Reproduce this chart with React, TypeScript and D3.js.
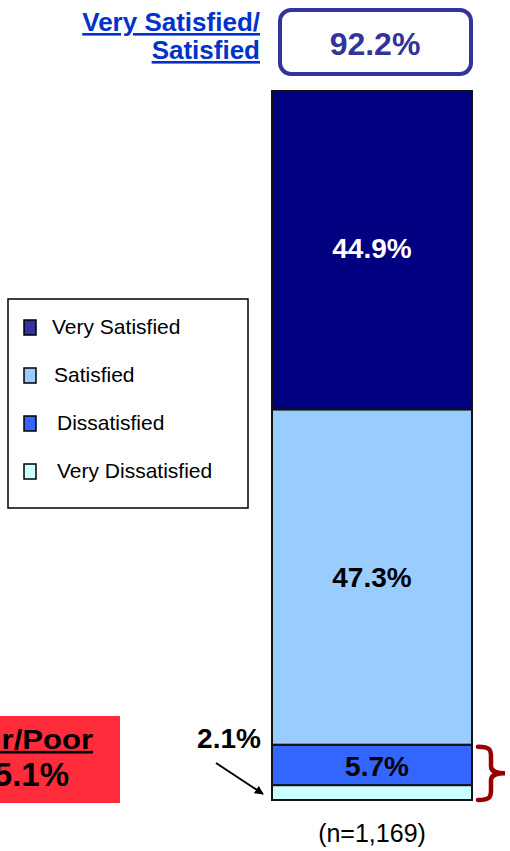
import { scaleLinear, stack } from "d3";

const categories = ["Very Satisfied", "Satisfied", "Dissatisfied", "Very Dissatisfied"];
const values = [44.9, 47.3, 5.7, 2.1];
const fills = ["#000080", "#99ccff", "#3366ff", "#ccffff"];
const legendFills = ["#333399", "#99ccff", "#3366ff", "#ccffff"];
const topLabel = ["Very Satisfied/", "Satisfied"];
const topValue = "92.2%";
const lowLabel = ["Fair/Poor", "5.1%"];
const sampleSize = "(n=1,169)";

const W = 510;
const H = 851;
const font = "Arial, 'Liberation Sans', sans-serif";

export default function App() {
  const row: Record<string, number> = {};
  categories.forEach((c, i) => (row[c] = values[i]));
  // stack bottom-up: Very Dissatisfied first
  const order = [...categories].reverse();
  const series = stack<Record<string, number>>().keys(order)([row]);

  const y = scaleLinear().domain([0, 100]).range([800, 91]);
  const barX = 272;
  const barW = 200;

  const seg = (name: string) => {
    const s = series.find((d) => d.key === name)!;
    return { y0: s[0][0], y1: s[0][1] };
  };

  const legendY = scaleLinear().domain([0, 3]).range([328, 472]);
  const legendTextX = [52, 54, 57, 57];

  const vs = seg("Very Satisfied");
  const sat = seg("Satisfied");
  const dis = seg("Dissatisfied");
  const vdis = seg("Very Dissatisfied");
  const braceTop = y(dis.y1) + 2;
  const braceBot = y(vdis.y0);
  const braceMid = (braceTop + braceBot) / 2;

  return (
    <svg
      width={W}
      height={H}
      style={{ position: "absolute", left: 0, top: 0, fontFamily: font }}
    >
      <defs>
        <marker id="ah" viewBox="0 0 10 10" refX="9" refY="5" markerWidth="4.5" markerHeight="4.5" orient="auto">
          <path d="M0,0 L10,5 L0,10 Z" fill="#000" />
        </marker>
      </defs>

      {/* top summary label */}
      {topLabel.map((t, i) => (
        <text
          key={t}
          x={260}
          y={31 + i * 28}
          textAnchor="end"
          fontSize={26}
          fontWeight="bold"
          fill="#0033cc"
          textDecoration="underline"
        >
          {t}
        </text>
      ))}
      <rect x={280} y={10} width={191} height={64} rx={11} fill="#fff" stroke="#333399" strokeWidth={4} />
      <text x={375} y={55} textAnchor="middle" fontSize={32} fontWeight="bold" fill="#333399">
        {topValue}
      </text>

      {/* stacked bar */}
      {series.map((s) => {
        const idx = categories.indexOf(s.key);
        return (
          <rect
            key={s.key}
            x={barX}
            y={y(s[0][1])}
            width={barW}
            height={y(s[0][0]) - y(s[0][1])}
            fill={fills[idx]}
            stroke="#111"
            strokeWidth={2}
          />
        );
      })}

      {/* value labels */}
      <g fontWeight="bold" fontSize={28} textAnchor="middle">
        <text x={barX + barW / 2} y={(y(vs.y0) + y(vs.y1)) / 2 + 8} fill="#fff">
          {values[0].toFixed(1)}%
        </text>
        <text x={barX + barW / 2} y={(y(sat.y0) + y(sat.y1)) / 2 + 10} fill="#000">
          {values[1].toFixed(1)}%
        </text>
        <text x={barX + barW / 2 + 5} y={(y(dis.y0) + y(dis.y1)) / 2 + 11} fill="#000">
          {values[2].toFixed(1)}%
        </text>
        <text x={229} y={748} fill="#000">
          {values[3].toFixed(1)}%
        </text>
      </g>
      <line x1={216} y1={763} x2={263} y2={794} stroke="#000" strokeWidth={2} markerEnd="url(#ah)" />

      {/* brace */}
      <path
        d={`M478,${braceTop} C490,${braceTop} 491,${braceTop + 3} 491,${braceTop + 10}
            L491,${braceMid - 7} C491,${braceMid - 1} 497,${braceMid} 505,${braceMid}
            C497,${braceMid} 491,${braceMid + 1} 491,${braceMid + 7}
            L491,${braceBot - 10} C491,${braceBot - 3} 490,${braceBot} 478,${braceBot}`}
        fill="none"
        stroke="#990000"
        strokeWidth={4.5}
        strokeLinecap="round"
      />

      {/* low summary box (runs off the left edge, as in the original) */}
      <rect x={0} y={716} width={120} height={87} fill="#ff2d3c" />
      <g transform="translate(93,0) scale(1.15,1)">
        <text x={0} y={749} textAnchor="end" fontSize={27} fontWeight="bold" fill="#000" textDecoration="underline">
          {lowLabel[0]}
        </text>
      </g>
      <text x={69} y={786} textAnchor="end" fontSize={33} fontWeight="bold" fill="#000">
        {lowLabel[1]}
      </text>

      {/* legend */}
      <rect x={8} y={299} width={240} height={209} fill="#fff" stroke="#000" strokeWidth={1.5} />
      {categories.map((c, i) => (
        <g key={c}>
          <rect x={24} y={legendY(i) - 8} width={12} height={15} fill={legendFills[i]} stroke="#000" strokeWidth={1.5} />
          <text x={legendTextX[i]} y={legendY(i) + 6} fontSize={21} fill="#000">
            {c}
          </text>
        </g>
      ))}

      <text x={barX + barW / 2} y={842} textAnchor="middle" fontSize={25} fill="#000">
        {sampleSize}
      </text>
    </svg>
  );
}
